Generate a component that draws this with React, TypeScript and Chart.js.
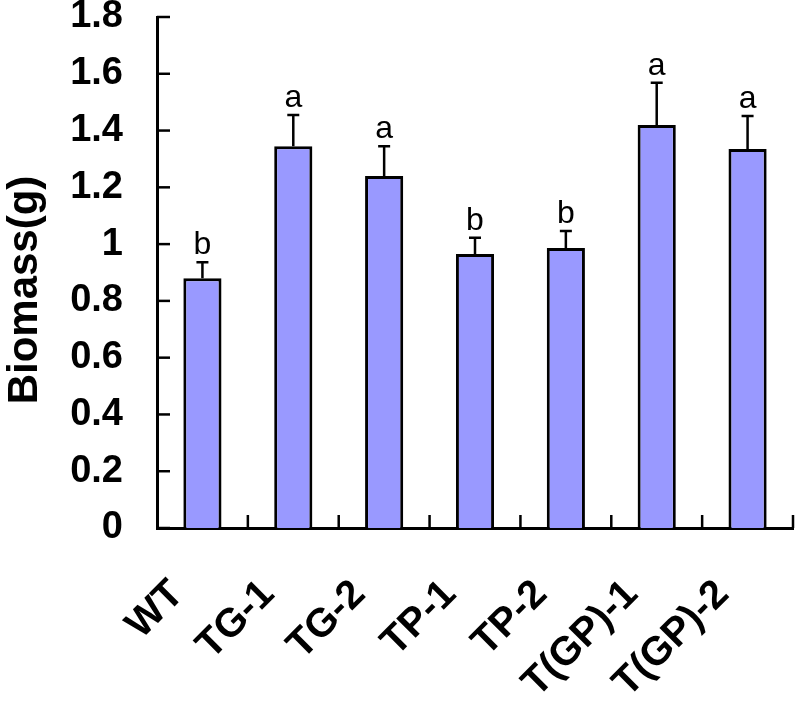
import React, { useEffect, useRef } from 'react';
import { Chart, registerables } from 'chart.js';

Chart.register(...registerables);

const categories = ['WT', 'TG-1', 'TG-2', 'TP-1', 'TP-2', 'T(GP)-1', 'T(GP)-2'];
const biomass = [0.88, 1.345, 1.24, 0.965, 0.986, 1.42, 1.335];
const errors = [0.056, 0.11, 0.105, 0.057, 0.06, 0.148, 0.116];
const letters = ['b', 'a', 'a', 'b', 'b', 'a', 'a'];
const yMin = 0;
const yMax = 1.8;
const yStep = 0.2;
const yTitle = 'Biomass(g)   ';

const FONT = "'Liberation Sans', Arial, sans-serif";

const overlay = {
  id: 'overlay',
  afterDatasetsDraw(chart: any) {
    const { ctx, scales } = chart;
    const x = scales.x;
    const y = scales.y;
    ctx.save();
    ctx.strokeStyle = '#000';
    ctx.fillStyle = '#000';
    ctx.lineCap = 'butt';
    ctx.lineWidth = 2.5;
    ctx.font = `32px ${FONT}`;
    ctx.textAlign = 'center';
    ctx.textBaseline = 'alphabetic';
    biomass.forEach((v, i) => {
      const cx = x.getPixelForValue(i);
      const y0 = y.getPixelForValue(v);
      const y1 = y.getPixelForValue(v + errors[i]);
      ctx.beginPath();
      ctx.moveTo(cx, y0);
      ctx.lineTo(cx, y1);
      ctx.moveTo(cx - 6, y1);
      ctx.lineTo(cx + 6, y1);
      ctx.stroke();
      ctx.fillText(letters[i], cx, y1 - 8);
    });
    ctx.lineWidth = 2.5;
    const axX = y.right;
    y.ticks.forEach((t: any) => {
      const py = y.getPixelForValue(t.value);
      ctx.beginPath();
      ctx.moveTo(axX, py);
      ctx.lineTo(axX + 13, py);
      ctx.stroke();
    });
    const step = (x.right - x.left) / categories.length;
    const axY = x.top;
    categories.forEach((_, i) => {
      const px = x.getPixelForValue(i) + step / 2;
      ctx.beginPath();
      ctx.moveTo(px, axY);
      ctx.lineTo(px, axY - 13);
      ctx.stroke();
    });
    ctx.restore();
  },
};

export default function App() {
  const ref = useRef<HTMLCanvasElement>(null);
  useEffect(() => {
    if (!ref.current) return;
    const chart = new Chart(ref.current, {
      type: 'bar',
      data: {
        labels: categories,
        datasets: [
          {
            data: biomass,
            backgroundColor: '#9999FF',
            borderColor: '#000000',
            borderWidth: 3,
            barPercentage: 0.42,
            categoryPercentage: 1,
          },
        ],
      },
      options: {
        responsive: false,
        animation: false,
        layout: { padding: { top: 17, right: 5, left: 0, bottom: 0 } },
        plugins: {
          legend: { display: false },
          tooltip: { enabled: false },
        },
        scales: {
          x: {
            grid: { display: false, drawTicks: false },
            border: { display: true, color: '#000', width: 3 },
            ticks: {
              autoSkip: false,
              maxRotation: 45,
              minRotation: 45,
              labelOffset: -25,
              padding: 43,
              color: '#000',
              font: { family: FONT, size: 40, weight: 'bold' },
            },
            afterFit(scale: any) {
              scale.height = 178;
              scale.paddingLeft = 0;
              scale.paddingRight = 0;
            },
          },
          y: {
            min: yMin,
            max: yMax,
            grid: { display: false, drawTicks: false },
            border: { display: true, color: '#000', width: 3 },
            ticks: {
              stepSize: yStep,
              padding: 34,
              color: '#000',
              font: { family: FONT, size: 38, weight: 'bold' },
              callback: (v: any) => String(Math.round(Number(v) * 10) / 10),
            },
            title: {
              display: true,
              text: yTitle,
              color: '#000',
              padding: 0,
              font: { family: FONT, size: 42, weight: 'bold' },
            },
            afterFit(scale: any) {
              scale.width = 157;
              scale.paddingTop = 0;
              scale.paddingBottom = 0;
            },
          },
        },
      },
      plugins: [overlay],
    });
    return () => chart.destroy();
  }, []);
  return (
    <div style={{ position: 'absolute', left: 0, top: 0, width: 798, height: 706, background: '#fff' }}>
      <canvas ref={ref} width={798} height={706} />
    </div>
  );
}
